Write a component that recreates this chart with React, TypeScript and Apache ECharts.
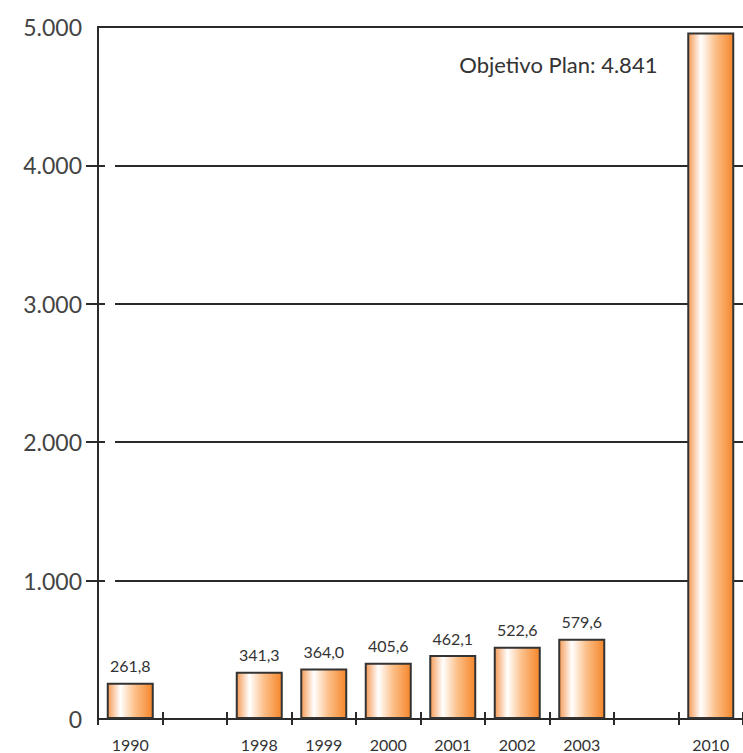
import React, { useEffect, useRef } from "react";
import * as echarts from "echarts";

const categories = ["1990", "", "1998", "1999", "2000", "2001", "2002", "2003", "", "2010"];
const values: (number | null)[] = [261.8, null, 341.3, 364.0, 405.6, 462.1, 522.6, 579.6, null, 4960];
const yTickValues = [1000, 2000, 3000, 4000];
const targetNote = "Objetivo Plan: 4.841";

const FONT = "Lato, 'Open Sans', sans-serif";
const LINE = "#2a2a2a";

export default function App() {
  const ref = useRef<HTMLDivElement>(null);
  useEffect(() => {
    if (!ref.current) return;
    const chart = echarts.init(ref.current, undefined, { renderer: "svg" });
    const barColor = new echarts.graphic.LinearGradient(0, 0, 1, 0, [
      { offset: 0, color: "#f59a55" },
      { offset: 0.28, color: "#ffffff" },
      { offset: 0.6, color: "#fcc08a" },
      { offset: 1, color: "#f5862a" },
    ]);
    const data = values.map((v, i) => {
      if (v == null) return null;
      if (categories[i] === "2010") {
        return {
          value: v,
          label: {
            show: true,
            position: [-228, 32],
            verticalAlign: "middle",
            align: "left",
            formatter: targetNote,
            fontSize: 22,
            color: "#333",
            fontFamily: FONT,
          },
        };
      }
      return v;
    });
    chart.setOption({
      animation: false,
      backgroundColor: "#fff",
      grid: [
        { left: 98, right: 0, top: 27, bottom: 34, containLabel: false },
        { left: 115, right: 0, top: 27, bottom: 34, containLabel: false },
      ],
      xAxis: [
        {
          type: "category",
          gridIndex: 0,
          position: "bottom",
          data: categories,
          axisLine: { show: true, lineStyle: { color: LINE, width: 2 } },
          axisTick: { show: true, length: 6, lineStyle: { color: LINE, width: 2 } },
          axisLabel: { fontSize: 16, color: "#333", fontFamily: FONT, margin: 17 },
          splitLine: { show: false },
        },
        {
          type: "category",
          gridIndex: 0,
          position: "bottom",
          data: categories,
          axisLine: { show: false },
          axisTick: { show: true, inside: true, length: 7, lineStyle: { color: LINE, width: 2 } },
          axisLabel: { show: false },
          splitLine: { show: false },
        },
        {
          type: "category",
          gridIndex: 0,
          position: "top",
          data: categories,
          axisLine: { show: true, lineStyle: { color: LINE, width: 2 } },
          axisTick: { show: false },
          axisLabel: { show: false },
          splitLine: { show: false },
        },
        { type: "value", gridIndex: 1, show: false },
      ],
      yAxis: [
        {
          type: "value",
          gridIndex: 0,
          position: "left",
          min: 0,
          max: 5000,
          interval: 1000,
          axisLine: { show: true, lineStyle: { color: LINE, width: 2 } },
          axisTick: { show: true, length: 12, customValues: yTickValues, lineStyle: { color: LINE, width: 2 } },
          axisLabel: {
            fontSize: 23,
            color: "#444",
            fontFamily: FONT,
            margin: 16,
            padding: [0, 0, 8, 0],
            formatter: (v: number) => (v === 0 ? "0" : v / 1000 + ".000"),
          },
          splitLine: { show: false },
        },
        {
          type: "value",
          gridIndex: 0,
          position: "left",
          min: 0,
          max: 5000,
          interval: 1000,
          axisLine: { show: false },
          axisTick: { show: true, inside: true, length: 7, customValues: yTickValues, lineStyle: { color: LINE, width: 2 } },
          axisLabel: { show: false },
          splitLine: { show: false },
        },
        {
          type: "value",
          gridIndex: 1,
          min: 0,
          max: 5000,
          interval: 1000,
          axisLine: { show: false },
          axisTick: { show: false },
          axisLabel: { show: false },
          splitLine: { show: true, lineStyle: { color: LINE, width: 2 } },
        },
      ],
      series: [
        {
          type: "bar",
          xAxisIndex: 0,
          yAxisIndex: 0,
          data,
          barWidth: 47,
          z: 5,
          itemStyle: { color: barColor, borderColor: "#333", borderWidth: 2 },
          label: {
            show: true,
            position: "top",
            distance: 9,
            fontSize: 16,
            color: "#333",
            fontFamily: FONT,
            formatter: (p: any) => (p.value == null ? "" : Number(p.value).toFixed(1).replace(".", ",")),
          },
        },
      ],
    });
    return () => chart.dispose();
  }, []);
  return (
    <div
      ref={ref}
      style={{ position: "fixed", left: 0, top: 0, width: 743, height: 753, background: "#fff" }}
    />
  );
}
